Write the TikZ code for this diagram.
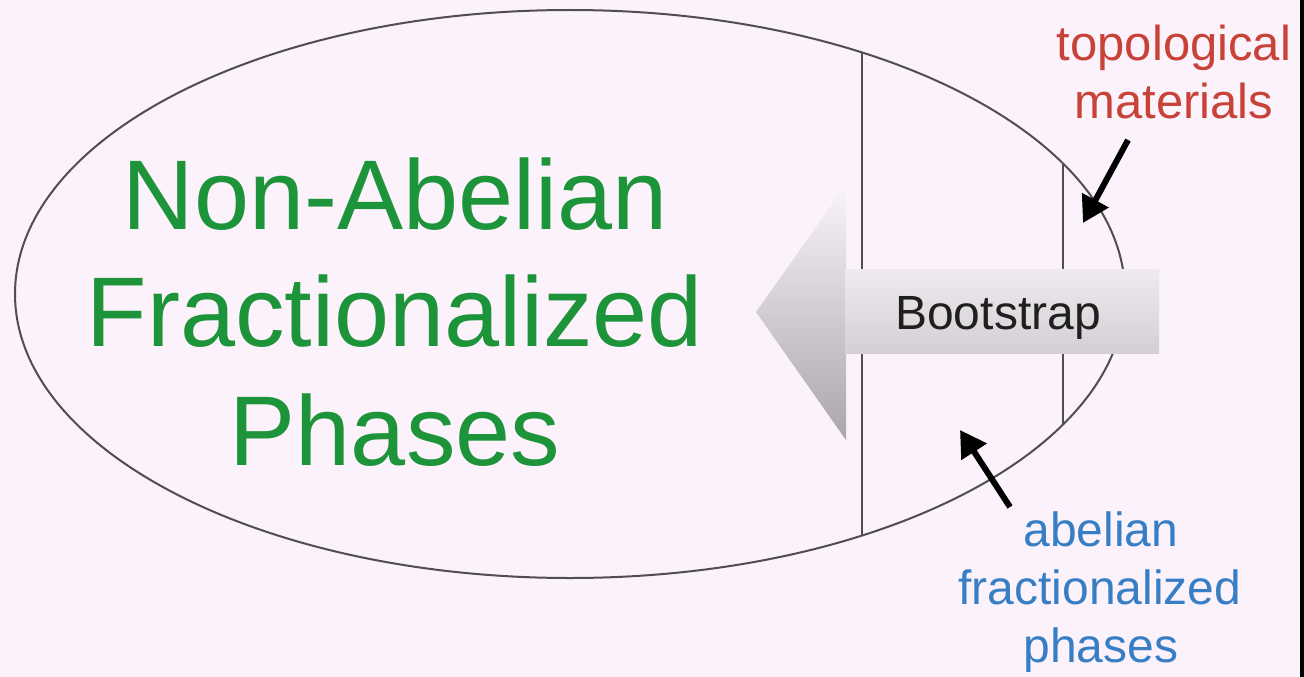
\documentclass[tikz,border=0pt]{standalone}
\usepackage{fontspec}
\setmainfont{Liberation Sans}
\usetikzlibrary{arrows.meta}

\definecolor{bg}{RGB}{251,242,251}
\definecolor{outline}{RGB}{80,78,80}
\definecolor{nagreen}{RGB}{30,148,58}
\definecolor{tmred}{RGB}{200,66,56}
\definecolor{abblue}{RGB}{56,126,196}
\definecolor{headtop}{RGB}{248,244,248}
\definecolor{headbot}{RGB}{170,165,170}
\definecolor{shafttop}{RGB}{238,234,238}
\definecolor{shaftbot}{RGB}{212,207,212}

\tikzset{
  border/.style={draw=outline, line width=2pt},
  bigtext/.style={anchor=base, text=nagreen, font=\fontsize{99}{117}\selectfont, inner sep=0pt},
  redlabel/.style={anchor=base, text=tmred, font=\fontsize{49}{58}\selectfont, inner sep=0pt},
  bluelabel/.style={anchor=base, text=abblue, font=\fontsize{48}{58}\selectfont, inner sep=0pt},
  pointer/.style={line width=6pt, -{Triangle[length=26pt,width=29pt]}},
}

\begin{document}
\begin{tikzpicture}[x=1pt,y=-1pt]
  % page background and frame edge
  \fill[bg] (0,0) rectangle (1304,677);
  \useasboundingbox (0,0) rectangle (1304,677);
  \fill[black] (1300,0) rectangle (1304,677);

  % the big ellipse and its two dividing chords
  \draw[border] (570,294) ellipse [x radius=555pt, y radius=284pt];
  \coordinate (c1top) at (862,52.5);
  \coordinate (c1bot) at (862,535.5);
  \coordinate (c2top) at (1063,163.6);
  \coordinate (c2bot) at (1063,424.4);
  \draw[border] (c1top) -- (c1bot);
  \draw[border] (c2top) -- (c2bot);

  % large grey arrow pointing left
  \shade[top color=headtop, bottom color=headbot]
    (756,312) -- (846,185) -- (846,440) -- cycle;
  \shade[top color=shafttop, bottom color=shaftbot]
    (845,269) rectangle (1159,353);
  \node[anchor=base, text=black!88, font=\fontsize{48}{57}\selectfont, inner sep=0pt]
    (boot) at (998,329) {Bootstrap};

  % central title
  \node[bigtext] (na1) at (395,229) {Non-Abelian};
  \node[bigtext] (na2) at (395,346) {Fractionalized};
  \node[bigtext] (na3) at (395,465) {Phases};

  % topological materials label and pointer
  \node[redlabel] (tm1) at (1174,60) {topological};
  \node[redlabel] (tm2) at (1174,118) {materials};
  \coordinate (tmtail) at (1128,140);
  \coordinate (tmtip) at (1083,223);
  \draw[pointer] (tmtail) -- (tmtip);

  % abelian fractionalized phases label and pointer
  \node[bluelabel] (ab1) at (1101,546) {abelian};
  \node[bluelabel] (ab2) at (1100,604) {fractionalized};
  \node[bluelabel] (ab3) at (1101,662) {phases};
  \coordinate (abtail) at (1010,507);
  \coordinate (abtip) at (960,430);
  \draw[pointer] (abtail) -- (abtip);
\end{tikzpicture}
\end{document}
